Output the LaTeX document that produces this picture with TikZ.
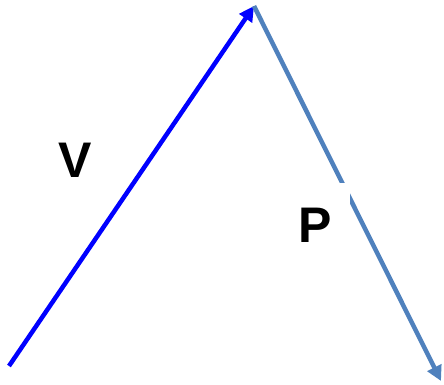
\documentclass[tikz,border=0pt]{standalone}
\usepackage{fontspec}
\setmainfont{Liberation Sans}
\definecolor{vecblue}{RGB}{0,0,255}
\definecolor{steelline}{RGB}{79,129,189}
\usetikzlibrary{arrows.meta}

\begin{document}
\begin{tikzpicture}[x=1pt,y=-1pt,
  vec/.style={line width=4.5pt, -{Triangle[length=15pt,width=15pt]}},
  lbl/.style={font=\fontsize{50}{60}\selectfont\bfseries}]

\useasboundingbox (0,0) rectangle (444,385);

% --- Corners ---
\coordinate (start) at (9,366);
\coordinate (apex) at (254,6);
\coordinate (finish) at (441,381);

% --- Vectors ---
\draw[vec, vecblue] (start) -- (apex);
\draw[vec, steelline] (apex) -- (finish);

% Labels
\node[lbl] (vlabel) at (75,160) {V};
\node[lbl, fill=white, minimum width=70pt, minimum height=84pt] (plabel) at (315,225) {P};

\end{tikzpicture}
\end{document}
